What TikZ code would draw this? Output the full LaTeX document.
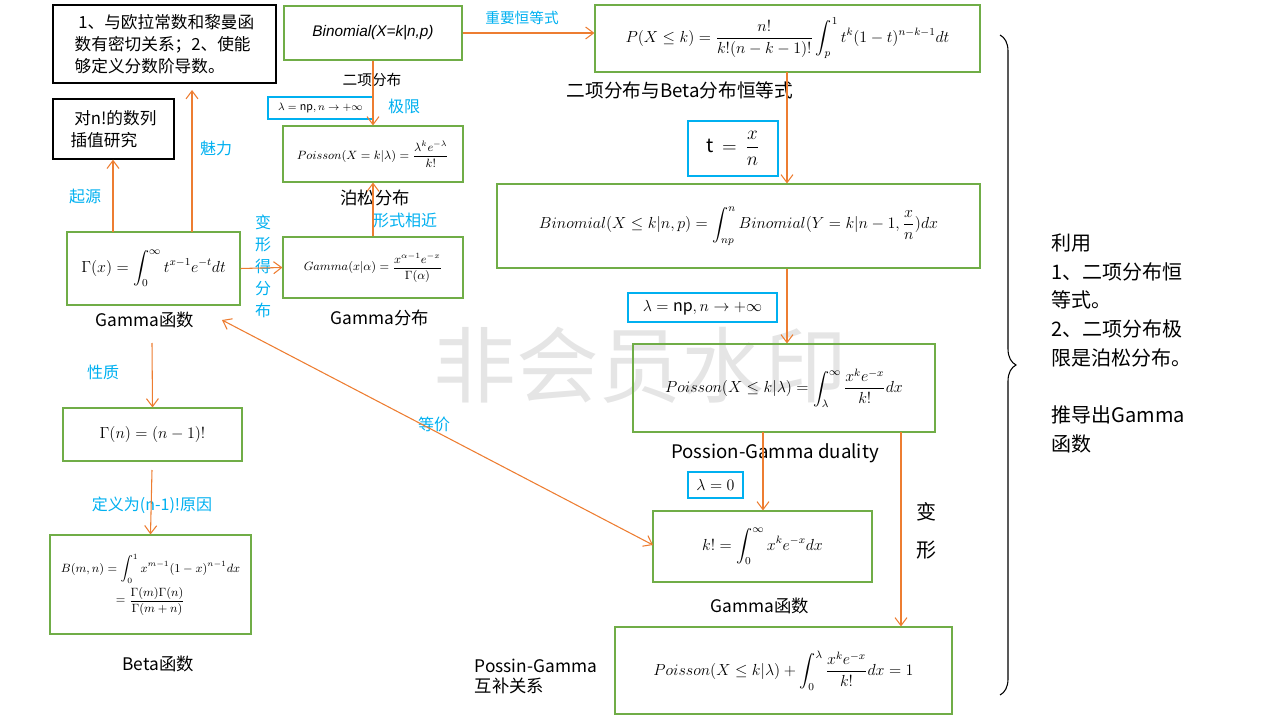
\documentclass[tikz,border=0pt]{standalone}
\usepackage{amsmath}
\usepackage{fontspec}
\setmainfont{Noto Sans CJK SC}
\newfontfamily\itsans{Liberation Sans}
\usetikzlibrary{arrows.meta,decorations.pathreplacing}
\definecolor{org}{RGB}{237,125,49}
\definecolor{grn}{RGB}{112,173,71}
\definecolor{cy}{RGB}{0,176,240}
\tikzset{
 gbox/.style={draw=grn,line width=0.8pt,inner sep=0pt},
 bbox/.style={draw=black,line width=1pt,inner sep=0pt},
 cbox/.style={draw=cy,line width=0.8pt,inner sep=0pt},
 arr/.style={draw=org,line width=0.8pt,-{Straight Barb[length=6pt,width=9pt]}},
 lab/.style={text=cy,font=\fontsize{12}{14}\selectfont},
 captxt/.style={font=\fontsize{13}{15}\selectfont},
}
\newcommand{\bx}[4]{\node[#1,minimum width=#3*0.75pt,minimum height=#4*0.75pt] at #2}
\begin{document}
\begin{tikzpicture}[x=0.75pt,y=-0.75pt]
\useasboundingbox (0,0) rectangle (1280,720);
\node[text=black!10,font=\fontsize{62}{70}\selectfont] (wm) at (640,365) {非会员水印};
% boxes
\bx{bbox,align=left,font=\fontsize{12.5}{16.5}\selectfont}{(164.5,44)}{223}{78} (n1) {\ 1、与欧拉常数和黎曼函\\数有密切关系；2、使能\\够定义分数阶导数。};
\bx{bbox,align=left,font=\fontsize{12.5}{16.5}\selectfont}{(113.5,129)}{121}{60} (n2) {\ 对n!的数列\\插值研究};
\bx{gbox,font=\large}{(153.5,268.5)}{173}{73} (gam) {$\Gamma(x)=\displaystyle\int_0^\infty t^{x-1}e^{-t}dt$};
\bx{gbox}{(373,33)}{178}{54} (bin) {\itsans\itshape\fontsize{11.5}{13}\selectfont Binomial(X=k|n,p)};
\bx{gbox,font=\small}{(373,154)}{180}{56} (poi) {$Poisson(X=k|\lambda)=\dfrac{\lambda^ke^{-\lambda}}{k!}$};
\bx{gbox,font=\small}{(373,267.5)}{180}{61} (gd) {$Gamma(x|\alpha)=\dfrac{x^{\alpha-1}e^{-x}}{\Gamma(\alpha)}$};
\bx{cbox,font=\footnotesize}{(320.5,108)}{105}{22} (lam1) {$\lambda=\mathrm{np},n\rightarrow+\infty$};
\bx{gbox,font=\large}{(152.5,434.5)}{179}{53} (fac) {$\Gamma(n)=(n-1)!$};
\bx{gbox,align=center,font=\small}{(150.5,584.5)}{201}{99} (beta) {$B(m,n)=\displaystyle\int_0^1x^{m-1}(1-x)^{n-1}dx$\\[2pt]$=\dfrac{\Gamma(m)\Gamma(n)}{\Gamma(m+n)}$};
\bx{gbox,font=\large}{(787.5,38.5)}{385}{67} (bid) {$P(X\le k)=\dfrac{n!}{k!(n-k-1)!}\displaystyle\int_p^1t^k(1-t)^{n-k-1}dt$};
\bx{cbox,font=\Large}{(733,148.5)}{90}{55} (tb) {t\ \ $=$\ \ $\dfrac{x}{n}$};
\bx{gbox,font=\large}{(738.5,226)}{483}{84} (bcdf) {$Binomial(X\le k|n,p)=\displaystyle\int_{np}^nBinomial(Y=k|n-1,\frac{x}{n})dx$};
\bx{cbox,font=\large}{(702.5,307.5)}{149}{29} (lam2) {$\lambda=\mathrm{np},n\rightarrow+\infty$};
\bx{gbox,font=\large}{(784,388)}{302}{88} (pcdf) {$Poisson(X\le k|\lambda)=\displaystyle\int_\lambda^\infty\frac{x^ke^{-x}}{k!}dx$};
\bx{cbox,font=\large}{(715.5,485)}{55}{26} (lam3) {$\lambda=0$};
\bx{gbox,font=\large}{(762.5,546.5)}{219}{71} (kf) {$k!=\displaystyle\int_0^\infty x^ke^{-x}dx$};
\bx{gbox,font=\large}{(783.5,670.5)}{337}{87} (comp) {$Poisson(X\le k|\lambda)+\displaystyle\int_0^\lambda\frac{x^ke^{-x}}{k!}dx=1$};
% captions
\node[captxt] (c1) at (145,320) {Gamma函数};
\node[font=\fontsize{11}{13}\selectfont] (c2) at (372,80) {二项分布};
\node[captxt] (c3) at (375,198) {泊松分布};
\node[captxt] (c4) at (380,318) {Gamma分布};
\node[captxt] (c5) at (158,664) {Beta函数};
\node[font=\fontsize{14}{16}\selectfont] (c6) at (680,90) {二项分布与Beta分布恒等式};
\node[font=\fontsize{14}{16}\selectfont] (c7) at (775,453) {Possion-Gamma duality};
\node[captxt] (c8) at (760,606) {Gamma函数};
\node[captxt,align=left,anchor=west] (c9) at (470,676) {Possin-Gamma\\互补关系};
\node[font=\fontsize{15}{21.5}\selectfont,align=left,anchor=north west] (c10) at (1047,229) {利用\\1、二项分布恒\\等式。\\2、二项分布极\\限是泊松分布。\\[21.5pt]推导出Gamma\\函数};
% labels
\node[lab] (l1) at (85,196) {起源};
\node[lab] (l2) at (216,148) {魅力};
\node[lab] (l3) at (404,106) {极限};
\node[lab] (l4) at (405,220) {形式相近};
\node[lab,align=center,font=\fontsize{12}{16.5}\selectfont] (l5) at (263,266) {变\\形\\得\\分\\布};
\node[lab] (l6) at (103,372) {性质};
\node[lab] (l7) at (152,505) {定义为(n-1)!原因};
\node[lab] (l8) at (434,424) {等价};
\node[lab,font=\fontsize{11}{13}\selectfont] (l9) at (522,18) {重要恒等式};
\node[font=\fontsize{15}{28}\selectfont,align=center] (l10) at (926,531) {变\\形};
% connectors
\coordinate (a1) at (113,232); \coordinate (a2) at (192,232); \coordinate (a3) at (192,90);
\draw[arr] (a1) -- (n2.south -| a1);
\draw[arr] (a2) -- (a3);
\draw[arr] (gam.east) -- (gd.west);
\draw[arr] (bin.south) -- (poi.north);
\draw[arr] (gd.north) -- (poi.south);
\draw[arr] (bin.east) -- (bid.west |- bin.east);
\coordinate (b1) at (787,72); \coordinate (b2) at (763,432); \coordinate (b3) at (901,432);
\draw[arr] (b1) -- (bcdf.north -| b1);
\draw[arr] (bcdf.south -| b1) -- (pcdf.north -| b1);
\draw[arr] (b2) -- (kf.north -| b2);
\draw[arr] (b3) -- (comp.north -| b3);
\coordinate (g1) at (152,343);
\draw[arr] (g1) -- (fac.north);
\coordinate (f1) at (152,470);
\draw[arr] (f1) -- (beta.north);
\coordinate (e1) at (222,320); \coordinate (e2) at (653,545);
\draw[arr,{Straight Barb[length=6pt,width=9pt]}-{Straight Barb[length=6pt,width=9pt]}] (e1) -- (e2);
% brace
\coordinate (br1) at (1000,35); \coordinate (br2) at (1000,695);
\draw[line width=0.8pt,decorate,decoration={brace,amplitude=12pt}] (br1) -- (br2);
\end{tikzpicture}
\end{document}
